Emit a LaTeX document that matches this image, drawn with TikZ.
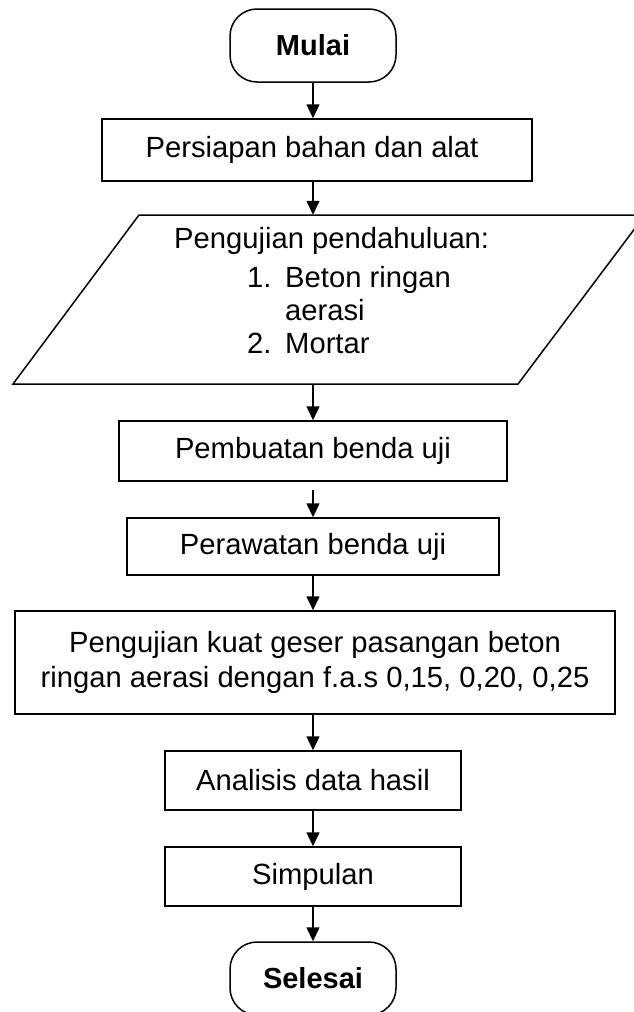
\documentclass[tikz,border=0pt]{standalone}
\usepackage{fontspec}
\setmainfont{Liberation Sans}
\usetikzlibrary{arrows.meta}
\begin{document}
\begin{tikzpicture}[x=1pt,y=-1pt,
  txt/.style={font=\fontsize{29.2}{35}\selectfont},
  proc/.style={txt, draw, rectangle, line width=1.5pt, inner sep=0pt, align=center},
  term/.style={draw, rectangle, rounded corners=27pt, line width=1.5pt, inner sep=0pt,
    font=\fontsize{29}{35}\selectfont\bfseries},
  arr/.style={line width=1.5pt, -{Triangle[length=14pt,width=13pt]}},
  ptext/.style={txt, anchor=base west, inner sep=0pt}]
\useasboundingbox (0,0) rectangle (634,1012);
\clip (0,0) rectangle (634,1012);
\node[term, minimum width=166pt, minimum height=73pt] (mulai) at (313,45.5) {Mulai};
\node[proc, minimum width=430pt, minimum height=62pt] (persiapan) at (317,150) {\hspace*{-10pt}Persiapan bahan dan alat};
\node[minimum width=300pt, minimum height=169pt, inner sep=0pt] (para) at (313,299.5) {};
\draw[line width=1.5pt, line join=miter] (139,215) -- (645,215) -- (518,384) -- (13,384) -- cycle;
\node[ptext] (pt1) at (174,248) {Pengujian pendahuluan:};
\node[ptext] (pt2n) at (247,287) {1.};
\node[ptext] (pt2) at (285,287) {Beton ringan};
\node[ptext] (pt3) at (285,320) {aerasi};
\node[ptext] (pt4n) at (247,353) {2.};
\node[ptext] (pt4) at (285,353) {Mortar};
\node[proc, minimum width=388pt, minimum height=60pt] (pembuatan) at (313,451) {Pembuatan benda uji};
\node[proc, minimum width=372pt, minimum height=57pt] (perawatan) at (313,546.5) {Perawatan benda uji};
\node[proc, minimum width=600pt, minimum height=103pt] (kuat) at (315,662.5) {Pengujian kuat geser pasangan beton\\ringan aerasi dengan f.a.s 0,15, 0,20, 0,25};
\node[proc, minimum width=296pt, minimum height=59pt] (analisis) at (313,780.5) {Analisis data hasil};
\node[proc, minimum width=296pt, minimum height=59pt] (simpulan) at (313,876.5) {Simpulan};
\node[term, minimum width=166pt, minimum height=73pt] (selesai) at (313,978.5) {Selesai};
\draw[arr] (mulai.south) -- (mulai.south |- persiapan.north);
\draw[arr] (para.north |- persiapan.south) -- (para.north);
\draw[arr] (para) -- (pembuatan);
\draw[arr, shorten <=8pt] (pembuatan) -- (perawatan);
\draw[arr] (perawatan.south) -- (perawatan.south |- kuat.north);
\draw[arr] (analisis.north |- kuat.south) -- (analisis.north);
\draw[arr] (analisis) -- (simpulan);
\draw[arr] (simpulan) -- (selesai);
\end{tikzpicture}
\end{document}
